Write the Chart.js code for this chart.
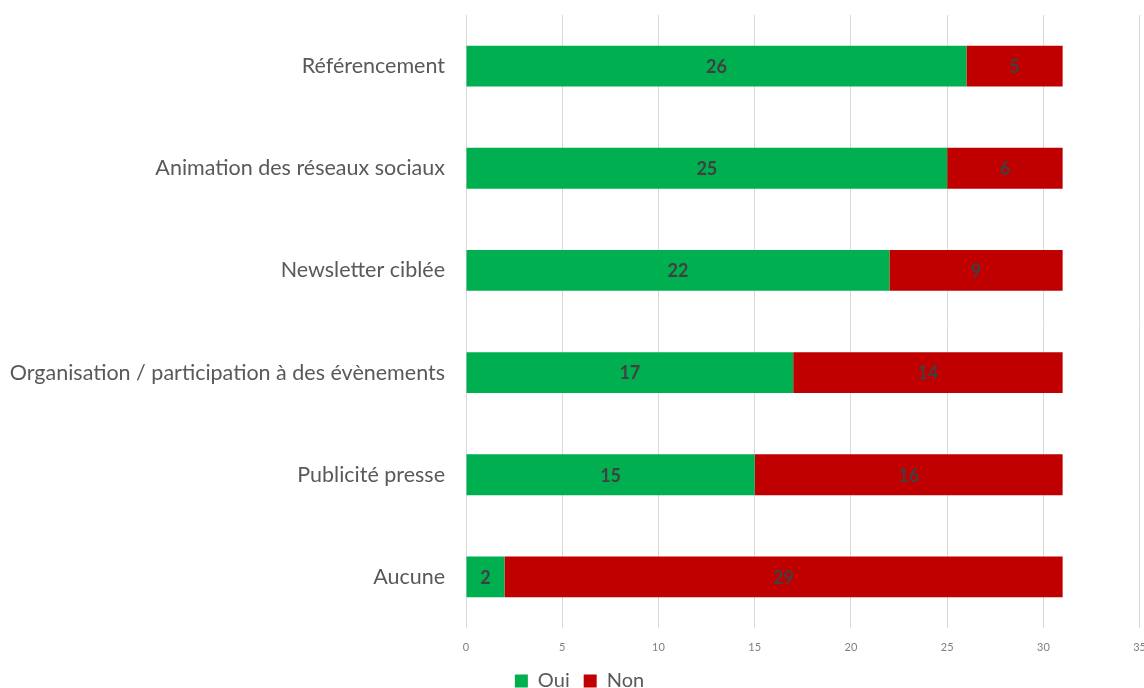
<!DOCTYPE html>
<html>
<head>
<meta charset="utf-8">
<script src="https://cdn.jsdelivr.net/npm/chart.js@4/dist/chart.umd.min.js"></script>
<style>
  html, body { margin: 0; padding: 0; background: #ffffff; overflow: hidden; }
  #wrap { width: 1159px; height: 688px; }
</style>
</head>
<body>
<div id="wrap"><canvas id="c" width="1159" height="688"></canvas></div>
<script>
const categories = [
  "Référencement",
  "Animation des réseaux sociaux",
  "Newsletter ciblée",
  "Organisation / participation à des évènements",
  "Publicité presse",
  "Aucune"
];
const ouiValues = [26, 25, 22, 17, 15, 2];
const nonValues = [5, 6, 9, 14, 16, 29];
const seriesNames = ["Oui", "Non"];
const xTicks = [0, 5, 10, 15, 20, 25, 30, 35];

const FONT = "Lato, 'Open Sans', sans-serif";

const valueLabels = {
  id: 'valueLabels',
  afterDatasetsDraw(chart) {
    const ctx = chart.ctx;
    ctx.save();
    ctx.font = "bold 18px " + FONT;
    ctx.fillStyle = "#404040";
    ctx.textAlign = "center";
    ctx.textBaseline = "middle";
    chart.data.datasets.forEach((ds, i) => {
      const meta = chart.getDatasetMeta(i);
      meta.data.forEach((el, j) => {
        const v = ds.data[j];
        if (!v) return;
        const p = el.getCenterPoint();
        ctx.fillText(String(v), p.x, p.y + 1);
      });
    });
    ctx.restore();
  }
};

new Chart(document.getElementById('c'), {
  type: 'bar',
  data: {
    labels: categories,
    datasets: [
      { label: seriesNames[0], data: ouiValues, backgroundColor: '#00B050', borderWidth: 0,
        barPercentage: 0.4, categoryPercentage: 1.0 },
      { label: seriesNames[1], data: nonValues, backgroundColor: '#C00000', borderWidth: 0,
        barPercentage: 0.4, categoryPercentage: 1.0 }
    ]
  },
  options: {
    indexAxis: 'y',
    responsive: false,
    animation: false,
    layout: { padding: { top: 15, left: 0, right: 0, bottom: -13 } },
    scales: {
      x: {
        stacked: true,
        min: 0, max: 35,
        afterBuildTicks(scale) { scale.ticks = xTicks.map(v => ({ value: v })); },
        afterFit(scale) { scale.height = 29; },
        grid: { color: '#d9d9d9', lineWidth: 1, drawTicks: false },
        border: { display: false },
        ticks: { padding: 13, color: '#7f7f7f', font: { family: FONT, size: 11 } }
      },
      y: {
        stacked: true,
        grid: { display: false, drawTicks: false },
        border: { display: false },
        afterFit(scale) { scale.width = 466; scale.paddingTop = 0; scale.paddingBottom = 0; },
        ticks: { padding: 21, color: '#595959', font: { family: FONT, size: 21.5 } }
      }
    },
    plugins: {
      legend: {
        position: 'bottom',
        labels: {
          color: '#595959',
          font: { family: FONT, size: 20 },
          boxWidth: 13, boxHeight: 13,
          padding: 14
        }
      },
      tooltip: { enabled: false }
    }
  },
  plugins: [valueLabels]
});
</script>
</body>
</html>
